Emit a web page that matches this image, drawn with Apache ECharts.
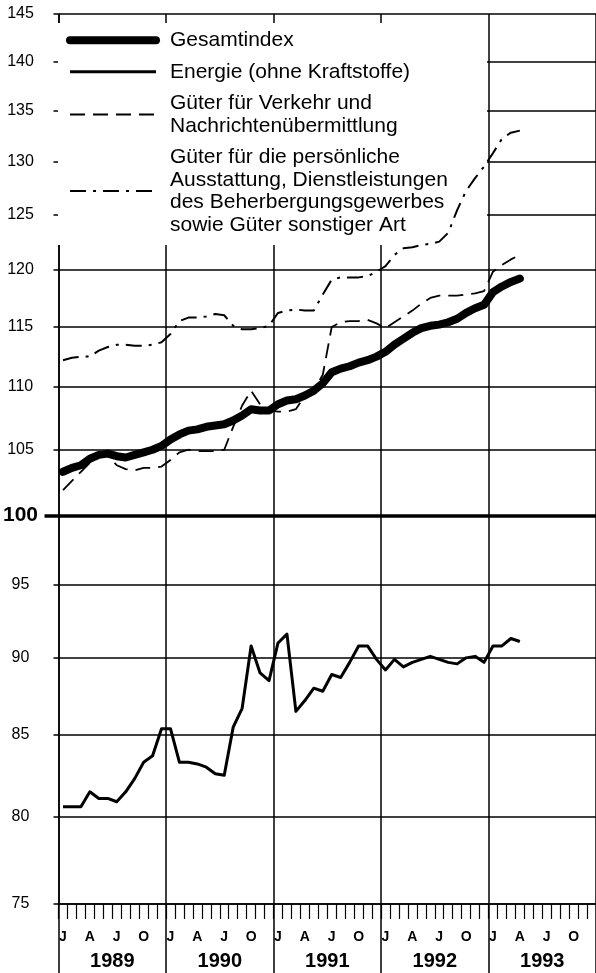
<!DOCTYPE html>
<html>
<head>
<meta charset="utf-8">
<script src="https://cdn.jsdelivr.net/npm/echarts@6/dist/echarts.min.js"></script>
<style>
html, body { margin: 0; padding: 0; background: #fff; }
#chart { width: 596px; height: 973px; }
</style>
</head>
<body>
<div id="chart"></div>
<script>
var years = ['1989', '1990', '1991', '1992', '1993'];
var monthNames = ['Jan', 'Feb', 'Mär', 'Apr', 'Mai', 'Jun', 'Jul', 'Aug', 'Sep', 'Okt', 'Nov', 'Dez'];
var monthTickLabels = ['J', '', '', 'A', '', '', 'J', '', '', 'O', '', ''];
var yTicks = [75, 80, 85, 90, 95, 100, 105, 110, 115, 120, 125, 130, 135, 140, 145];

// monatswerte jan 1989 - apr 1993
var gesamtindex = [103.3, 103.6, 103.8, 104.3, 104.6, 104.7, 104.5, 104.4, 104.6, 104.8, 105.0, 105.3,
    105.8, 106.2, 106.5, 106.6, 106.8, 106.9, 107.0, 107.3, 107.7, 108.2, 108.1, 108.1,
    108.6, 108.9, 109.0, 109.3, 109.7, 110.3, 111.2, 111.5, 111.7, 112.0, 112.2, 112.5,
    112.9, 113.5, 114.0, 114.5, 114.9, 115.1, 115.2, 115.4, 115.7, 116.2, 116.6, 116.9,
    118.0, 118.5, 118.9, 119.2];
var energie = [80.6, 80.6, 80.6, 81.5, 81.1, 81.1, 80.9, 81.5, 82.3, 83.3, 83.7, 85.4,
    85.4, 83.3, 83.3, 83.2, 83.0, 82.6, 82.5, 85.5, 86.7, 90.8, 89.0, 88.5,
    91.0, 91.6, 86.5, 87.2, 88.0, 87.8, 88.9, 88.7, 89.7, 90.8, 90.8, 89.9,
    89.2, 89.9, 89.4, 89.7, 89.9, 90.1, 89.9, 89.7, 89.6, 90.0, 90.1, 89.7,
    90.8, 90.8, 91.3, 91.1];
var verkehr = [101.9, 102.6, 103.3, 104.0, 104.5, 104.6, 103.8, 103.5, 103.4, 103.6, 103.6, 103.7,
    104.2, 104.8, 105.0, 104.9, 104.9, 104.9, 105.0, 106.8, 108.5, 109.7, 108.6, 108.1,
    108.0, 108.0, 108.2, 109.3, 109.7, 111.0, 115.0, 115.4, 115.5, 115.5, 115.6, 115.3,
    114.9, 115.4, 115.9, 116.4, 117.0, 117.5, 117.7, 117.7, 117.7, 117.8, 117.9, 118.1,
    119.8, 120.4, 120.9, 121.3];
var ausstattung = [112.2, 112.4, 112.5, 112.5, 113.0, 113.3, 113.5, 113.5, 113.4, 113.4, 113.5, 113.7,
    114.4, 115.5, 115.8, 115.8, 115.9, 116.1, 116.0, 115.1, 114.8, 114.8, 114.9, 115.1,
    116.2, 116.4, 116.5, 116.4, 116.4, 117.8, 119.1, 119.3, 119.3, 119.3, 119.4, 119.8,
    120.3, 121.3, 121.9, 122.0, 122.2, 122.3, 122.5, 123.3, 125.4, 127.2, 128.4, 129.5,
    130.8, 132.2, 132.8, 133.0];

var months = [];
years.forEach(function (y) {
    monthNames.forEach(function (m) { months.push(m + ' ' + y); });
});

var font = '"Liberation Sans", Arial, Helvetica, sans-serif';
var chart = echarts.init(document.getElementById('chart'));

var option = {
    animation: false,
    textStyle: { fontFamily: font, color: '#000' },
    grid: { left: 56, right: 0, top: 14, bottom: 69 },
    graphic: [{
        type: 'rect', z: 3,
        shape: { x: 58, y: 23, width: 429, height: 222 },
        style: { fill: '#fff' }
    }],
    legend: {
        orient: 'vertical', left: 66, top: 29, padding: 0,
        itemWidth: 86, itemHeight: 10, itemGap: 9,
        textStyle: { fontSize: 21, lineHeight: 22.5, color: '#000', fontFamily: font, padding: [0, 0, 0, 9] },
        lineStyle: { width: 'inherit' },
        itemStyle: { opacity: 0 },
        data: ['Gesamtindex', 'Energie (ohne Kraftstoffe)',
            'Güter für Verkehr und\nNachrichtenübermittlung',
            'Güter für die persönliche\nAusstattung, Dienstleistungen\ndes Beherbergungsgewerbes\nsowie Güter sonstiger Art']
    },
    xAxis: [{
        type: 'category', data: months, boundaryGap: true, position: 'bottom',
        axisLine: { show: true, lineStyle: { color: '#000', width: 1.5 } },
        axisTick: { show: true, interval: 0, length: 15, lineStyle: { color: '#000', width: 1.2 } },
        axisLabel: {
            interval: 0, margin: 26, fontSize: 14, fontWeight: 'bold', color: '#000',
            formatter: function (v, i) { return monthTickLabels[i % 12]; }
        },
        splitLine: { show: false }
    }, {
        type: 'category', data: years, boundaryGap: true, position: 'bottom', offset: 0,
        axisLine: { show: false },
        axisTick: { show: true, interval: 0, length: 69, lineStyle: { color: '#000', width: 1.5 } },
        axisLabel: { interval: 0, margin: 47, fontSize: 20, fontWeight: 'bold', color: '#000' },
        splitLine: { show: true, interval: 0, lineStyle: { color: '#000', width: 1.5 } }
    }],
    yAxis: [{
        type: 'log', logBase: 10, min: 75, max: 145,
        axisLine: { show: true, lineStyle: { color: '#000', width: 1.5 } },
        axisTick: { show: true, customValues: yTicks, length: 5, lineStyle: { color: '#000', width: 1.5 } },
        axisLabel: {
            customValues: yTicks, align: 'center', margin: 38, fontSize: 16, color: '#000',
            formatter: function (v) { return v === 100 ? '{b|100}' : String(v); },
            rich: { b: { fontSize: 21, fontWeight: 'bold', color: '#000', fontFamily: font } }
        },
        splitLine: { show: true, lineStyle: { color: '#000', width: 1.5 } }
    }, {
        type: 'log', logBase: 10, min: 75, max: 145, position: 'left',
        axisLine: { show: false },
        axisTick: { show: true, customValues: [100], length: 14, lineStyle: { color: '#000', width: 3.5 } },
        axisLabel: { show: false },
        splitLine: { show: true, lineStyle: { color: '#000', width: 3.5 } }
    }],
    series: [{
        name: 'Gesamtindex', type: 'line', data: gesamtindex, symbol: 'none', symbolSize: 0, z: 5,
        lineStyle: { color: '#000', width: 8, cap: 'round', join: 'round' },
        itemStyle: { color: '#000' }
    }, {
        name: 'Energie (ohne Kraftstoffe)', type: 'line', data: energie, symbol: 'none', symbolSize: 0,
        lineStyle: { color: '#000', width: 3, join: 'round' },
        itemStyle: { color: '#000' }
    }, {
        name: 'Güter für Verkehr und\nNachrichtenübermittlung', type: 'line', data: verkehr,
        symbol: 'none', symbolSize: 0,
        lineStyle: { color: '#000', width: 1.8, type: [15, 8] },
        itemStyle: { color: '#000' }
    }, {
        name: 'Güter für die persönliche\nAusstattung, Dienstleistungen\ndes Beherbergungsgewerbes\nsowie Güter sonstiger Art',
        type: 'line', data: ausstattung, symbol: 'none', symbolSize: 0,
        lineStyle: { color: '#000', width: 2, type: [16, 7, 3, 7] },
        itemStyle: { color: '#000' }
    }]
};
chart.setOption(option);
</script>
</body>
</html>
